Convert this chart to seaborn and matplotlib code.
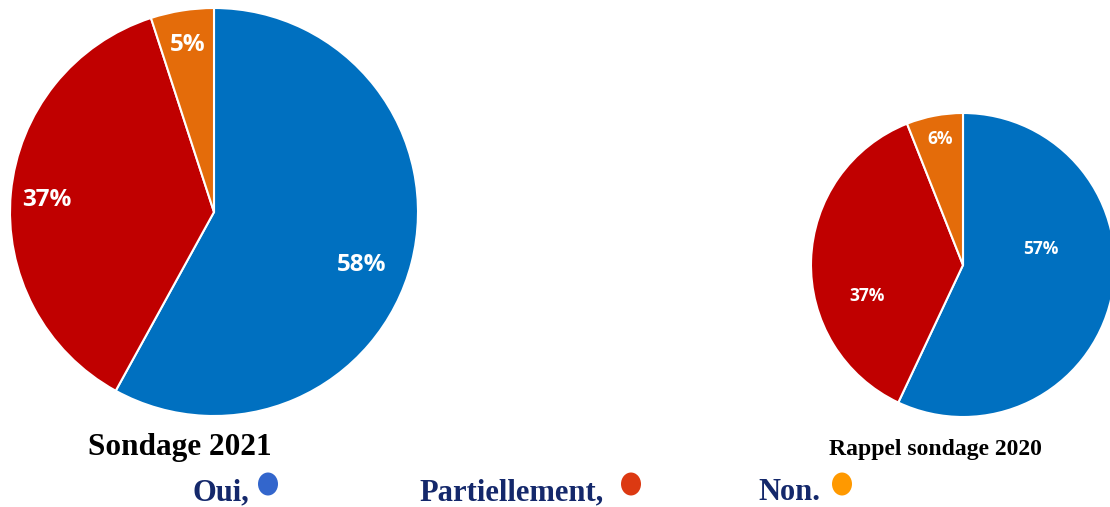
import numpy as np
import matplotlib
matplotlib.use("Agg")
import matplotlib.pyplot as plt
import seaborn as sns

# Survey answers, clockwise from 12 o'clock
CATEGORIES = ["Oui", "Partiellement", "Non"]
VALS_2021 = [58, 37, 5]
VALS_2020 = [57, 37, 6]

PIE_COLORS = ["#0070C0", "#C00000", "#E46C0A"]
DOT_COLORS = ["#3366CC", "#DC3912", "#FF9900"]
LEGEND_TEXT = ["Oui,", "Partiellement,", "Non."]
NAVY = "#14286B"

sns.set_theme(style="white")
plt.rcParams["font.family"] = ["DejaVu Sans"]


def draw_pie(ax, values, label_pos, fontsize):
    """label_pos: (angle offset from wedge middle in degrees, radius)."""
    wedges, _ = ax.pie(
        values, colors=PIE_COLORS, startangle=90, counterclock=False,
        wedgeprops=dict(edgecolor="white", linewidth=1.5),
    )
    for w, v, (da, r) in zip(wedges, values, label_pos):
        ang = np.deg2rad((w.theta1 + w.theta2) / 2 + da)
        ax.text(r * np.cos(ang), r * np.sin(ang), f"{v}%",
                ha="center", va="center", color="white",
                fontsize=fontsize, fontweight="bold", family="Open Sans")
    ax.set_xlim(-1, 1)
    ax.set_ylim(-1, 1)
    ax.set_aspect("equal")
    ax.axis("off")


fig = plt.figure(figsize=(11.1, 5.07), dpi=100)

ax1 = fig.add_axes([10 / 1110, 91 / 507, 408 / 1110, 408 / 507])
draw_pie(ax1, VALS_2021, [(-5.5, 0.77), (1.3, 0.82), (0, 0.83)], 17.5)

ax2 = fig.add_axes([811 / 1110, 90 / 507, 304 / 1110, 304 / 507])
draw_pie(ax2, VALS_2020, [(24, 0.52), (19.5, 0.66), (-0.5, 0.84)], 12.5)

fig.text(180 / 1110, 1 - 455 / 507, "Sondage 2021", ha="center",
         va="baseline", fontsize=22.5, fontweight="bold",
         family="Liberation Serif", color="black")
fig.text(935 / 1110, 1 - 455 / 507, "Rappel sondage 2020", ha="center",
         va="baseline", fontsize=17, fontweight="bold",
         family="Liberation Serif", color="black")

# Legend row: text followed by a coloured dot
text_x = [221, 512, 789]
dot_x = [268, 631, 842]
for t, tx, dx, c in zip(LEGEND_TEXT, text_x, dot_x, DOT_COLORS):
    fig.text(tx / 1110, 1 - 500 / 507, t, ha="center", va="baseline",
             fontsize=22, fontweight="bold", family="Liberation Serif",
             color=NAVY)
    fig.patches.append(matplotlib.patches.Ellipse(
        (dx / 1110, 1 - 484 / 507), 20 / 1110, 23 / 507,
        transform=fig.transFigure, facecolor=c, edgecolor="none"))

fig.savefig("out.png", dpi=100)
